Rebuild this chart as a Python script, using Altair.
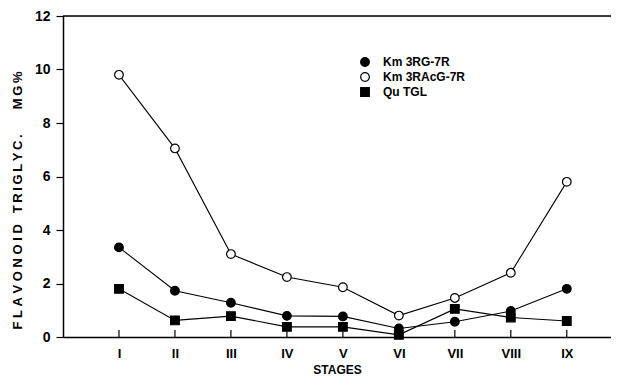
import altair as alt
import pandas as pd

stage_labels = ["I", "II", "III", "IV", "V", "VI", "VII", "VIII", "IX"]
stage_pos = [1, 2, 3, 4, 5, 6, 7, 8, 9]

series_names = ["Km 3RG-7R", "Km 3RAcG-7R", "Qu TGL"]
km3rg = [3.35, 1.73, 1.28, 0.79, 0.77, 0.32, 0.57, 0.97, 1.8]
km3racg = [9.8, 7.05, 3.1, 2.24, 1.86, 0.8, 1.46, 2.4, 5.8]
qutgl = [1.8, 0.62, 0.78, 0.38, 0.38, 0.08, 1.05, 0.73, 0.6]

rows = []
for name, vals in zip(series_names, [km3rg, km3racg, qutgl]):
    for p, lab, v in zip(stage_pos, stage_labels, vals):
        rows.append({"series": name, "pos": p, "stage": lab, "value": v})
df = pd.DataFrame(rows)
ticks_df = pd.DataFrame({"pos": stage_pos})

W, H = 548, 321
FONT = "Liberation Sans"
NB = "\u00a0"
TH = "\u2009"

y_title = NB.join("FLAVONOID") + NB * 3 + TH.join("TRIGLYC.") + NB * 7 + TH.join("MG%")

label_expr = "[''," + ",".join(f"'{s}'" for s in stage_labels) + "][datum.value]"

x_enc = alt.X(
    "pos:Q",
    scale=alt.Scale(domain=[0, 9.79], nice=False, zero=False),
    axis=alt.Axis(
        values=stage_pos, labelExpr=label_expr, ticks=False, grid=False,
        domainColor="black", domainWidth=1.5, labelFont=FONT, labelFontSize=13,
        labelFontWeight="bold", labelColor="black", labelPadding=10,
        title="STAGES", titleFont=FONT, titleFontSize=12, titleFontWeight="bold",
        titleColor="black", titlePadding=4,
    ),
)
y_enc = alt.Y(
    "value:Q",
    scale=alt.Scale(domain=[0, 12], nice=False),
    axis=alt.Axis(
        values=[0, 2, 4, 6, 8, 10, 12], grid=False, tickSize=7, tickColor="black",
        tickWidth=1.2, domainColor="black", domainWidth=1.5, labelFont=FONT,
        labelFontSize=14, labelFontWeight="bold", labelColor="black", labelPadding=6,
        title=y_title, titleFont=FONT, titleFontSize=13, titleFontWeight="bold",
        titleColor="black", titleAngle=270, titleAlign="center",
        titleBaseline="middle", titleX=-46, titleY=184,
    ),
)

legend_cfg = dict(
    title=None, orient="none", legendX=296, legendY=40, labelFont=FONT,
    labelFontSize=12, labelFontWeight="bold", labelColor="black",
    symbolSize=75, symbolStrokeColor="black", symbolStrokeWidth=1.2,
    labelOffset=12, rowPadding=1,
)

base = alt.Chart(df)

lines = base.mark_line(color="black", strokeWidth=1.1).encode(
    x=x_enc, y=y_enc, detail="series:N"
)

points = base.mark_point(filled=True, strokeWidth=1.2, opacity=1, size=75).encode(
    x="pos:Q",
    y="value:Q",
    shape=alt.Shape(
        "series:N",
        scale=alt.Scale(domain=series_names, range=["circle", "circle", "square"]),
        legend=alt.Legend(**legend_cfg),
    ),
    fill=alt.Fill(
        "series:N",
        scale=alt.Scale(domain=series_names, range=["black", "white", "black"]),
        legend=alt.Legend(**legend_cfg),
    ),
    stroke=alt.Stroke(
        "series:N",
        scale=alt.Scale(domain=series_names, range=["black", "black", "black"]),
        legend=alt.Legend(**legend_cfg),
    ),
)

xticks = alt.Chart(ticks_df).mark_rule(color="black", strokeWidth=1.2).encode(
    x="pos:Q", y=alt.value(H - 7), y2=alt.value(H)
)

top_line = alt.Chart(pd.DataFrame({"a": [0]})).mark_rule(color="black", strokeWidth=1.5).encode(
    x=alt.value(0), x2=alt.value(W), y=alt.value(0)
)

chart = (
    alt.layer(top_line, xticks, lines, points)
    .properties(
        width=W, height=H,
        autosize=alt.AutoSizeParams(type="none"),
        padding={"left": 55, "top": 8, "right": 0, "bottom": 41},
    )
    .configure_view(stroke=None)
    .configure(background="white")
)

chart.save("out.html", embed_options={"renderer": "svg", "actions": False})
